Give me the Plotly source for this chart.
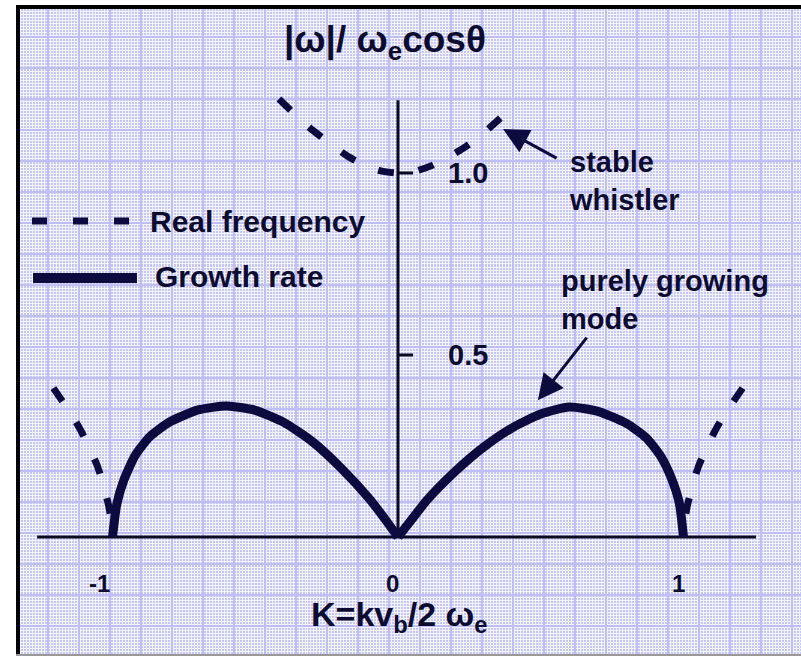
import plotly.graph_objects as go

# ---- data: normalised wavenumber K and |omega| / (omega_e cos theta) ----
# growth rate of the purely growing mode (two arches, -1 < K < 1)
K_GROW_LEFT = [-1.0, -0.985, -0.96, -0.92, -0.87, -0.80, -0.70, -0.60, -0.50, -0.40, -0.30, -0.20, -0.10, -0.05, 0.0]
GROW_LEFT = [0.0, 0.090, 0.157, 0.225, 0.275, 0.316, 0.349, 0.360, 0.348, 0.315, 0.262, 0.190, 0.105, 0.054, 0.0]
K_GROW_RIGHT = [0.0, 0.05, 0.10, 0.20, 0.30, 0.40, 0.50, 0.60, 0.70, 0.80, 0.87, 0.92, 0.96, 0.985, 1.0]
GROW_RIGHT = [0.0, 0.050, 0.100, 0.180, 0.247, 0.300, 0.338, 0.357, 0.345, 0.312, 0.272, 0.222, 0.157, 0.095, 0.0]

# real frequency of the stable whistler branch around K = 0
K_WHISTLER = [-0.417, -0.36, -0.30, -0.24, -0.18, -0.12, -0.06, 0.0, 0.06, 0.12, 0.18, 0.24, 0.30, 0.368]
FREQ_WHISTLER = [1.203, 1.160, 1.118, 1.083, 1.048, 1.022, 1.006, 1.000, 1.005, 1.021, 1.045, 1.074, 1.110, 1.157]

# real frequency beyond |K| = 1 (listed from the top end down to the axis)
K_OUTER_RIGHT = [1.207, 1.186, 1.147, 1.112, 1.081, 1.053, 1.032, 1.014, 1.004, 1.0]
FREQ_OUTER_RIGHT = [0.409, 0.385, 0.341, 0.294, 0.245, 0.195, 0.143, 0.088, 0.041, 0.0]
K_OUTER_LEFT = [-1.207, -1.186, -1.147, -1.112, -1.081, -1.053, -1.032, -1.014, -1.004, -1.0]
FREQ_OUTER_LEFT = [0.409, 0.385, 0.341, 0.294, 0.245, 0.195, 0.143, 0.088, 0.041, 0.0]

# axis ticks
X_TICKS = [-1, 0, 1]
X_TICK_TEXT = ["-1", "0", "1"]
Y_TICKS = [0.5, 1.0]
Y_TICK_TEXT = ["0.5", "1.0"]

# extent of the drawn axis lines
AXIS_X_MIN, AXIS_X_MAX = -1.264, 1.254
AXIS_Y_MAX = 1.200

# ---- styling ----
INK = "#0b0b40"
AXIS_INK = "#0a0a22"
TEXT_INK = "#0c0c30"
FONT = "Liberation Sans"
DASH = "16px,25px"

fig = go.Figure()

for k, g in ((K_GROW_LEFT, GROW_LEFT), (K_GROW_RIGHT, GROW_RIGHT)):
    fig.add_trace(go.Scatter(
        x=k, y=g, mode="lines",
        line=dict(color=INK, width=9, shape="spline", smoothing=0.6),
        hoverinfo="skip",
    ))

for k, w in ((K_WHISTLER, FREQ_WHISTLER), (K_OUTER_RIGHT, FREQ_OUTER_RIGHT),
             (K_OUTER_LEFT, FREQ_OUTER_LEFT)):
    fig.add_trace(go.Scatter(
        x=k, y=w, mode="lines",
        line=dict(color=INK, width=7, dash=DASH, shape="spline", smoothing=0.6),
        hoverinfo="skip",
    ))

shapes = [
    # axes through the origin
    dict(type="line", xref="x", yref="y", x0=AXIS_X_MIN, x1=AXIS_X_MAX, y0=0, y1=0,
         line=dict(color=AXIS_INK, width=3), layer="between"),
    dict(type="line", xref="x", yref="y", x0=0, x1=0, y0=0, y1=AXIS_Y_MAX,
         line=dict(color=AXIS_INK, width=3), layer="between"),
    # frame edges (left and top) and faint bottom edge
    dict(type="rect", xref="paper", yref="paper", x0=0, x1=4 / 785, y0=0, y1=1,
         fillcolor="black", line=dict(width=0), layer="above"),
    dict(type="rect", xref="paper", yref="paper", x0=0, x1=1, y0=1 - 4 / 651, y1=1,
         fillcolor="black", line=dict(width=0), layer="above"),
    dict(type="line", xref="paper", yref="paper", x0=0, x1=1, y0=0.0015, y1=0.0015,
         line=dict(color="#999999", width=2), layer="above"),
    # legend samples
    dict(type="line", xref="paper", yref="paper", x0=0.0204, x1=0.1452, y0=0.6682, y1=0.6682,
         line=dict(color=INK, width=7, dash="15px,26px"), layer="above"),
    dict(type="line", xref="paper", yref="paper", x0=0.0217, x1=0.1541, y0=0.5806, y1=0.5806,
         line=dict(color=INK, width=10), layer="above"),
]
# tick marks on the right of the vertical axis
for v in Y_TICKS:
    shapes.append(dict(type="line", xref="x", yref="y", xsizemode="pixel", xanchor=0,
                       x0=0, x1=15, y0=v, y1=v,
                       line=dict(color=AXIS_INK, width=3), layer="between"))


def bold(size):
    return dict(family=FONT, size=size, color=TEXT_INK, weight="bold")


annotations = []
x_tick_shift = [-13, -5, -5]
for v, t, s in zip(X_TICKS, X_TICK_TEXT, x_tick_shift):
    annotations.append(dict(x=v, y=0, xref="x", yref="y", text=t, showarrow=False,
                            xanchor="center", yanchor="middle", xshift=s, yshift=-46,
                            font=bold(24)))
for v, t in zip(Y_TICKS, Y_TICK_TEXT):
    annotations.append(dict(x=0, y=v, xref="x", yref="y", text=t, showarrow=False,
                            xanchor="left", yanchor="middle", xshift=48,
                            font=bold(29)))


def label(x, y, text, size, anchor="left"):
    return dict(x=x, y=y, xref="paper", yref="paper", text=text, showarrow=False,
                xanchor=anchor, yanchor="middle", align="left", font=bold(size))


annotations += [
    label(0.4701, 0.9432, "|ω|/ ω<sub>e</sub>cosθ", 37, anchor="center"),
    label(0.4879, 0.0614, "K=kv<sub>b</sub>/2 ω<sub>e</sub>", 34, anchor="center"),
    label(0.1682, 0.6667, "Real frequency", 30),
    label(0.1745, 0.5822, "Growth rate", 30),
    label(0.7020, 0.7297, "stable<br>whistler", 29),
    label(0.6915, 0.5469, "purely growing<br>mode", 29),
    # pointers
    dict(x=0.368, y=1.121, xref="x", yref="y", ax=55, ay=30, axref="pixel", ayref="pixel",
         text="", showarrow=True, arrowhead=2, arrowsize=1.7, arrowwidth=3,
         arrowcolor=INK, standoff=0),
    dict(x=0.490, y=0.376, xref="x", yref="y", ax=50, ay=-64, axref="pixel", ayref="pixel",
         text="", showarrow=True, arrowhead=2, arrowsize=1.7, arrowwidth=3,
         arrowcolor=INK, standoff=0),
]

# graph-paper background: fine light grid with faint darker bands every ~31 px
fig.update_xaxes(
    range=[-1.3380, 1.4116], showticklabels=False, ticks="", zeroline=False, showline=False,
    tickmode="linear", tick0=-1.0088, dtick=0.10858,
    showgrid=True, gridcolor="#bfbff8", gridwidth=2,
    minor=dict(tickmode="linear", tick0=0, dtick=3 / 285.5, showgrid=True,
               gridcolor="#f4f4ff", gridwidth=1, ticks=""),
)
fig.update_yaxes(
    range=[-0.3269, 1.4615], showticklabels=False, ticks="", zeroline=False, showline=False,
    tickmode="linear", tick0=1.3736, dtick=0.08516,
    showgrid=True, gridcolor="#bfbff8", gridwidth=2,
    minor=dict(tickmode="linear", tick0=0, dtick=3 / 364, showgrid=True,
               gridcolor="#f4f4ff", gridwidth=1, ticks=""),
)

fig.update_layout(
    width=801, height=656,
    margin=dict(l=16, r=0, t=5, b=0),
    paper_bgcolor="white", plot_bgcolor="#c6c6fa",
    showlegend=False, hovermode=False,
    shapes=shapes, annotations=annotations,
)

fig.write_html("out.html", config={"displayModeBar": False})
